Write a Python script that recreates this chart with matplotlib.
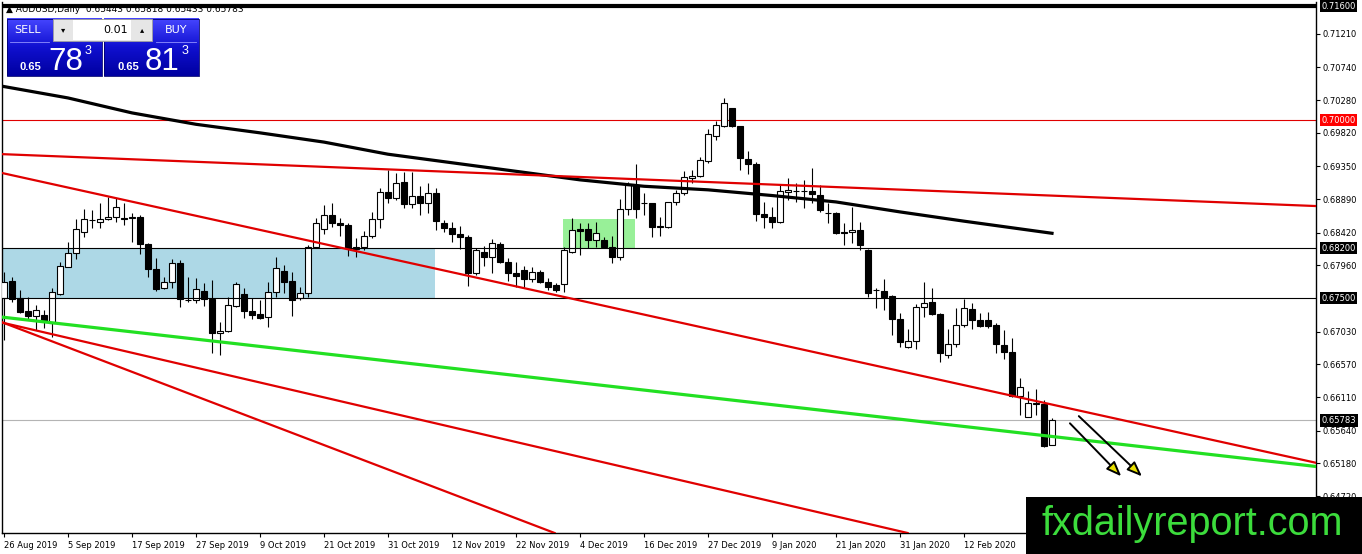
import numpy as np
import matplotlib.pyplot as plt
from matplotlib.patches import Rectangle
from matplotlib.colors import LinearSegmentedColormap

W, H = 1362, 554

# AUDUSD daily candles (open, high, low, close)
opens = [0.6750, 0.6774, 0.6750, 0.6732, 0.6725, 0.6726, 0.6715, 0.6756, 0.6794, 0.6813,
         0.6843, 0.6860, 0.6857, 0.6861, 0.6864, 0.6862, 0.6863, 0.6864, 0.6826, 0.6791,
         0.6764, 0.6773, 0.6799, 0.6748, 0.6747, 0.6760, 0.6749, 0.6701, 0.6704, 0.6739,
         0.6756, 0.6732, 0.6727, 0.6723, 0.6759, 0.6788, 0.6774, 0.6750, 0.6757, 0.6822,
         0.6847, 0.6867, 0.6855, 0.6852, 0.6819, 0.6822, 0.6837, 0.6861, 0.6899, 0.6890,
         0.6913, 0.6882, 0.6893, 0.6883, 0.6897, 0.6855, 0.6849, 0.6840, 0.6836, 0.6785,
         0.6815, 0.6808, 0.6826, 0.6801, 0.6785, 0.6789, 0.6777, 0.6787, 0.6773, 0.6768,
         0.6770, 0.6815, 0.6847, 0.6847, 0.6832, 0.6832, 0.6822, 0.6808, 0.6875, 0.6909,
         0.6884, 0.6884, 0.6851, 0.6850, 0.6885, 0.6897, 0.6919, 0.6921, 0.6942, 0.6978,
         0.6992, 0.7017, 0.6992, 0.6945, 0.6938, 0.6868, 0.6864, 0.6857, 0.6899, 0.6901,
         0.6900, 0.6900, 0.6895, 0.6870, 0.6870, 0.6843, 0.6843, 0.6846, 0.6818, 0.6762,
         0.6760, 0.6753, 0.6721, 0.6681, 0.6690, 0.6738, 0.6744, 0.6728, 0.6670, 0.6685,
         0.6712, 0.6735, 0.6719, 0.6719, 0.6712, 0.6684, 0.6675, 0.6613, 0.6583, 0.6602,
         0.6601, 0.65443]
highs = [0.6787, 0.6780, 0.6761, 0.6752, 0.6740, 0.6733, 0.6764, 0.6801, 0.6829, 0.6861,
         0.6875, 0.6874, 0.6883, 0.6892, 0.6890, 0.6883, 0.6870, 0.6867, 0.6827, 0.6806,
         0.6780, 0.6805, 0.6803, 0.6780, 0.6778, 0.6771, 0.6775, 0.6716, 0.6752, 0.6773,
         0.6764, 0.6750, 0.6747, 0.6773, 0.6808, 0.6797, 0.6787, 0.6766, 0.6825, 0.6862,
         0.6880, 0.6883, 0.6862, 0.6855, 0.6834, 0.6844, 0.6871, 0.6904, 0.6930, 0.6926,
         0.6927, 0.6927, 0.6907, 0.6912, 0.6904, 0.6860, 0.6857, 0.6851, 0.6839, 0.6820,
         0.6823, 0.6833, 0.6829, 0.6806, 0.6801, 0.6795, 0.6794, 0.6789, 0.6778, 0.6771,
         0.6822, 0.6862, 0.6855, 0.6855, 0.6857, 0.6836, 0.6837, 0.6889, 0.6913, 0.6938,
         0.6897, 0.6884, 0.6864, 0.6885, 0.6902, 0.6928, 0.6930, 0.6948, 0.6987, 0.6999,
         0.7031, 0.7017, 0.6992, 0.6956, 0.6941, 0.6885, 0.6878, 0.6910, 0.6919, 0.6912,
         0.6916, 0.6932, 0.6909, 0.6884, 0.6871, 0.6855, 0.6878, 0.6857, 0.6819, 0.6764,
         0.6777, 0.6754, 0.6729, 0.6706, 0.6742, 0.6773, 0.6764, 0.6729, 0.6706, 0.6736,
         0.6749, 0.6743, 0.6729, 0.6730, 0.6715, 0.6705, 0.6694, 0.6638, 0.6620, 0.6622,
         0.6607, 0.65818]
lows = [0.6691, 0.6745, 0.6729, 0.6719, 0.6705, 0.6708, 0.6695, 0.6754, 0.6793, 0.6805,
        0.6836, 0.6848, 0.6848, 0.6860, 0.6857, 0.6852, 0.6829, 0.6812, 0.6780, 0.6760,
        0.6763, 0.6764, 0.6738, 0.6745, 0.6743, 0.6739, 0.6673, 0.6670, 0.6702, 0.6738,
        0.6722, 0.6721, 0.6721, 0.6709, 0.6752, 0.6757, 0.6725, 0.6747, 0.6752, 0.6820,
        0.6840, 0.6850, 0.6837, 0.6809, 0.6808, 0.6818, 0.6834, 0.6848, 0.6883, 0.6888,
        0.6876, 0.6876, 0.6867, 0.6870, 0.6846, 0.6843, 0.6829, 0.6819, 0.6767, 0.6782,
        0.6795, 0.6785, 0.6799, 0.6774, 0.6766, 0.6764, 0.6773, 0.6771, 0.6761, 0.6758,
        0.6758, 0.6813, 0.6811, 0.6820, 0.6822, 0.6820, 0.6799, 0.6803, 0.6867, 0.6862,
        0.6867, 0.6836, 0.6837, 0.6848, 0.6881, 0.6895, 0.6912, 0.6920, 0.6940, 0.6972,
        0.6990, 0.6990, 0.6930, 0.6924, 0.6858, 0.6848, 0.6848, 0.6855, 0.6888, 0.6885,
        0.6876, 0.6883, 0.6871, 0.6856, 0.6840, 0.6825, 0.6827, 0.6818, 0.6752, 0.6736,
        0.6733, 0.6698, 0.6681, 0.6680, 0.6679, 0.6723, 0.6726, 0.6660, 0.6666, 0.6682,
        0.6709, 0.6706, 0.6709, 0.6708, 0.6673, 0.6664, 0.6611, 0.6586, 0.6583, 0.6586,
        0.6541, 0.65433]
closes = [0.6773, 0.6749, 0.6730, 0.6725, 0.6733, 0.6718, 0.6759, 0.6795, 0.6813, 0.6847,
          0.6861, 0.6859, 0.6861, 0.6864, 0.6878, 0.6861, 0.6864, 0.6826, 0.6791, 0.6763,
          0.6773, 0.6799, 0.6749, 0.6747, 0.6763, 0.6749, 0.6701, 0.6704, 0.6740, 0.6770,
          0.6732, 0.6726, 0.6722, 0.6759, 0.6792, 0.6773, 0.6747, 0.6757, 0.6822, 0.6855,
          0.6867, 0.6855, 0.6852, 0.6820, 0.6822, 0.6837, 0.6861, 0.6899, 0.6890, 0.6912,
          0.6882, 0.6893, 0.6883, 0.6897, 0.6858, 0.6848, 0.6840, 0.6836, 0.6785, 0.6818,
          0.6808, 0.6827, 0.6801, 0.6785, 0.6781, 0.6777, 0.6787, 0.6773, 0.6766, 0.6761,
          0.6818, 0.6846, 0.6844, 0.6832, 0.6841, 0.6822, 0.6808, 0.6875, 0.6909, 0.6875,
          0.6883, 0.6850, 0.6850, 0.6885, 0.6897, 0.6920, 0.6921, 0.6944, 0.6980, 0.6993,
          0.7024, 0.6992, 0.6947, 0.6938, 0.6868, 0.6864, 0.6857, 0.6900, 0.6902, 0.6900,
          0.6901, 0.6896, 0.6874, 0.6869, 0.6842, 0.6842, 0.6846, 0.6825, 0.6757, 0.6761,
          0.6752, 0.6721, 0.6688, 0.6690, 0.6738, 0.6743, 0.6728, 0.6673, 0.6686, 0.6712,
          0.6736, 0.6719, 0.6711, 0.6711, 0.6685, 0.6674, 0.6613, 0.6625, 0.6603, 0.6603,
          0.6542, 0.65783]

# moving average (black), sampled every 8 bars
ma_idx = [0, 8, 16, 24, 32, 40, 48, 56, 64, 72, 80, 88, 96, 104, 112, 120, 131]
ma_val = [0.7047, 0.7031, 0.7010, 0.6994, 0.6982, 0.6969, 0.6952, 0.6940, 0.6928,
          0.6916, 0.6907, 0.6902, 0.6894, 0.6885, 0.6871, 0.6858, 0.6841]

# date labels every 8 bars
date_idx = [0, 8, 16, 24, 32, 40, 48, 56, 64, 72, 80, 88, 96, 104, 112, 120]
date_lbl = ['26 Aug 2019', '5 Sep 2019', '17 Sep 2019', '27 Sep 2019', '9 Oct 2019',
            '21 Oct 2019', '31 Oct 2019', '12 Nov 2019', '22 Nov 2019', '4 Dec 2019',
            '16 Dec 2019', '27 Dec 2019', '9 Jan 2020', '21 Jan 2020', '31 Jan 2020',
            '12 Feb 2020']

price_ticks = [0.71210, 0.70740, 0.70280, 0.69820, 0.69350, 0.68890, 0.68420, 0.67960,
               0.67030, 0.66570, 0.66110, 0.65640, 0.65180, 0.64720]

# horizontal levels: (price, colour of line, colour of label box)
levels = [(0.71600, 'black', 'black'), (0.70000, '#e00000', '#ff0000'),
          (0.68200, 'black', 'black'), (0.67500, 'black', 'black'),
          (0.65783, '#b4b4b4', 'black')]

# trend lines: two anchor points (bar, price) each
red_lines = [((0, 0.6952), (160, 0.6881)),
             ((0, 0.6925), (130, 0.6603)),
             ((0, 0.6715), (100, 0.6454)),
             ((0, 0.6715), (60, 0.6458))]
green_line = ((0, 0.6723), (130, 0.6557))

# zones: (bar start, bar end, price low, price high, colour)
zones = [(-0.1, 53.9, 0.6750, 0.6820, '#add8e6'),
         (69.9, 78.9, 0.6820, 0.6861, '#98f098')]

# arrows: (tail bar, tail price, tip bar, tip price)
arrows = [(133.0, 0.6577, 139.9, 0.6497), (134.1, 0.6587, 142.5, 0.6497)]

fig = plt.figure(figsize=(W / 100, H / 100), dpi=100)
ax = fig.add_axes([2 / W, 1 - 533 / H, 1314 / W, 531 / H])
ax.set_xlim(-0.25, 164.0)
ax.set_ylim(0.64202, 0.71657)

for x0, x1, lo, hi, col in zones:
    ax.add_patch(Rectangle((x0, lo), x1 - x0, hi - lo, fc=col, ec='none', zorder=0))

for price, lc, _ in levels:
    lw = 3.0 if price == 0.716 else 0.8
    ax.axhline(price, color=lc, lw=lw, zorder=1 if lc != 'black' else 4)

# candles
idx = np.arange(len(opens))
o = np.array(opens); c = np.array(closes)
ax.vlines(idx, lows, highs, color='black', lw=0.8, zorder=2)
bottom = np.minimum(o, c)
height = np.maximum(np.abs(c - o), 0.000015)
face = ['white' if cc >= oo else 'black' for oo, cc in zip(o, c)]
ax.bar(idx, height, bottom=bottom, width=0.65, color=face, edgecolor='black',
       linewidth=0.8, zorder=3)

ax.plot(ma_idx, ma_val, color='black', lw=2.3, zorder=5)
for p1, p2 in red_lines:
    ax.axline(p1, p2, color='#e00000', lw=1.6, zorder=5)
ax.axline(green_line[0], green_line[1], color='#22e022', lw=2.3, zorder=5)

for xt, yt, xh, yh in arrows:
    ax.annotate('', xy=(xh, yh), xytext=(xt, yt),
                arrowprops=dict(arrowstyle='-|>,head_length=0.9,head_width=0.35',
                                fc='#e8e000', ec='black', lw=1.4), zorder=6)

# axes look
ax.spines['top'].set_visible(False)
for s in ['left', 'bottom', 'right']:
    ax.spines[s].set_linewidth(1.0)
ax.yaxis.tick_right()
ax.set_yticks(price_ticks)
ax.set_yticklabels([f'{p:.5f}' for p in price_ticks])
ax.tick_params(axis='y', length=3, width=0.8, pad=2, labelsize=6)
ax.set_xticks(date_idx)
ax.set_xticklabels(date_lbl, ha='left')
ax.tick_params(axis='x', length=3, width=0.8, pad=3, labelsize=6)

for price, _, bc in levels:
    ax.text(1.004, price, f'{price:.5f}', transform=ax.get_yaxis_transform(),
            fontsize=6, color='white', va='center', ha='left', zorder=7,
            bbox=dict(fc=bc, ec='none', pad=1.2), clip_on=False)

ax.text(6 / W, 1 - 9 / H, '\u25b2 AUDUSD,Daily  0.65443 0.65818 0.65433 0.65783',
        transform=fig.transFigure, fontsize=6.5, va='center', zorder=1)

# one-click trading panel
pa = fig.add_axes([0, 1 - 80 / H, 200 / W, 80 / H])
pa.set_xlim(0, 200)
pa.set_ylim(80, 0)
pa.axis('off')
pa.patch.set_visible(False)
blue = LinearSegmentedColormap.from_list('blue', ['#4646ff', '#1010d0', '#0000a0'])
grad = np.linspace(0, 1, 64).reshape(-1, 1)
for x0, x1 in [(7, 102), (104, 199)]:
    pa.imshow(grad, extent=(x0, x1, 76, 19), cmap=blue, aspect='auto', zorder=1)
    pa.add_patch(Rectangle((x0, 19), x1 - x0, 57, fc='none', ec='#000070', lw=0.6, zorder=2))
pa.plot([10, 49], [42, 42], color='#9090ff', lw=0.6, zorder=2)
pa.plot([156, 196], [42, 42], color='#9090ff', lw=0.6, zorder=2)
pa.add_patch(Rectangle((53, 19), 99, 22, fc='#e6e6e6', ec='#a0a0a0', lw=0.6, zorder=3))
pa.add_patch(Rectangle((73, 20), 58, 20, fc='white', ec='none', zorder=4))
pa.text(63, 30, '\u25be', fontsize=6, ha='center', va='center', zorder=5)
pa.text(142, 30, '\u25b4', fontsize=6, ha='center', va='center', zorder=5)
pa.text(128, 30, '0.01', fontsize=8, ha='right', va='center', zorder=5)
pa.text(28, 30, 'SELL', fontsize=8, color='white', ha='center', va='center', zorder=5)
pa.text(176, 30, 'BUY', fontsize=8, color='white', ha='center', va='center', zorder=5)
for xs, big in [(20, '78'), (117, '81')]:
    pa.text(xs, 70, '0.65', fontsize=8, color='white', fontweight='bold',
            family='Liberation Sans', va='baseline', zorder=5)
    pa.text(xs + 28, 70, big, fontsize=22.5, color='white', va='baseline',
            family='Liberation Sans', zorder=5)
    pa.text(xs + 65, 54, '3', fontsize=9, color='white', va='baseline',
            family='Liberation Sans', zorder=5)

# watermark
fig.add_artist(Rectangle((1026 / W, 0), 1 - 1026 / W, 57 / H, transform=fig.transFigure,
                         fc='black', ec='none', zorder=10))
fig.text(1042 / W, 1 - 535 / H, 'fxdailyreport.com', fontsize=28.5, color='#3cdc3c',
         family='Liberation Sans', va='baseline', ha='left', zorder=11)

fig.savefig('out.png', dpi=100)
